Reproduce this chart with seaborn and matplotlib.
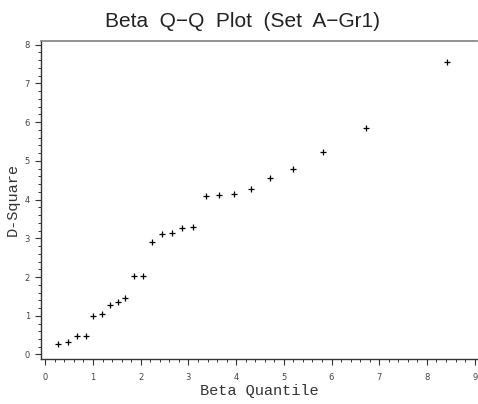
import numpy as np
import pandas as pd
import seaborn as sns
import matplotlib.pyplot as plt
from matplotlib.ticker import MultipleLocator

# values
beta_quantile = [0.27, 0.48, 0.67, 0.85, 1.01, 1.18, 1.35, 1.52, 1.68, 1.86,
                 2.05, 2.24, 2.44, 2.65, 2.86, 3.10, 3.37, 3.64, 3.96, 4.31,
                 4.72, 5.20, 5.83, 6.72, 8.43]
d_square = [0.27, 0.33, 0.47, 0.49, 1.00, 1.05, 1.27, 1.35, 1.47, 2.02,
            2.03, 2.90, 3.11, 3.15, 3.26, 3.29, 4.09, 4.11, 4.14, 4.27,
            4.56, 4.80, 5.23, 5.85, 7.54]

df = pd.DataFrame({'Beta Quantile': beta_quantile, 'D-Square': d_square})

sns.set_style('ticks')
plt.rcParams['font.family'] = ['DejaVu Sans']

fig = plt.figure(figsize=(4.78, 4.04), dpi=100)
ax = fig.add_axes([0.086, 0.112, 0.912, 0.787])

sns.scatterplot(data=df, x='Beta Quantile', y='D-Square', marker='+',
                color='black', s=24, linewidth=0.9, ax=ax)

ax.set_xlim(-0.088, 9.05)
ax.set_ylim(-0.11, 8.1)
ax.xaxis.set_major_locator(MultipleLocator(1))
ax.xaxis.set_minor_locator(MultipleLocator(0.2))
ax.yaxis.set_major_locator(MultipleLocator(1))
ax.yaxis.set_minor_locator(MultipleLocator(0.2))
ax.tick_params(which='major', length=4, width=0.8, color='#333333',
               labelsize=6, labelcolor='#444444')
ax.tick_params(axis='x', which='major', pad=6)
ax.tick_params(axis='y', which='major', pad=4)
ax.tick_params(which='minor', length=2, width=0.7, color='#333333')

ax.set_xlabel('Beta Quantile', family='Liberation Mono', fontsize=11,
              color='#333333', labelpad=2)
ax.set_ylabel('D-Square', family='Liberation Mono', fontsize=11,
              color='#333333')
ax.yaxis.set_label_coords(-0.05, 0.5)

for side in ['left', 'bottom']:
    ax.spines[side].set_color('#333333')
    ax.spines[side].set_linewidth(1.0)
ax.spines['top'].set_color('#808080')
ax.spines['top'].set_linewidth(1.2)
ax.spines['right'].set_visible(False)

fig.text(0.508, 0.946, 'Beta  Q\u2212Q  Plot  (Set  A\u2212Gr1)',
         family='Liberation Sans', fontsize=15, ha='center', va='center',
         color='#222222')

fig.savefig('out.png', dpi=100)
